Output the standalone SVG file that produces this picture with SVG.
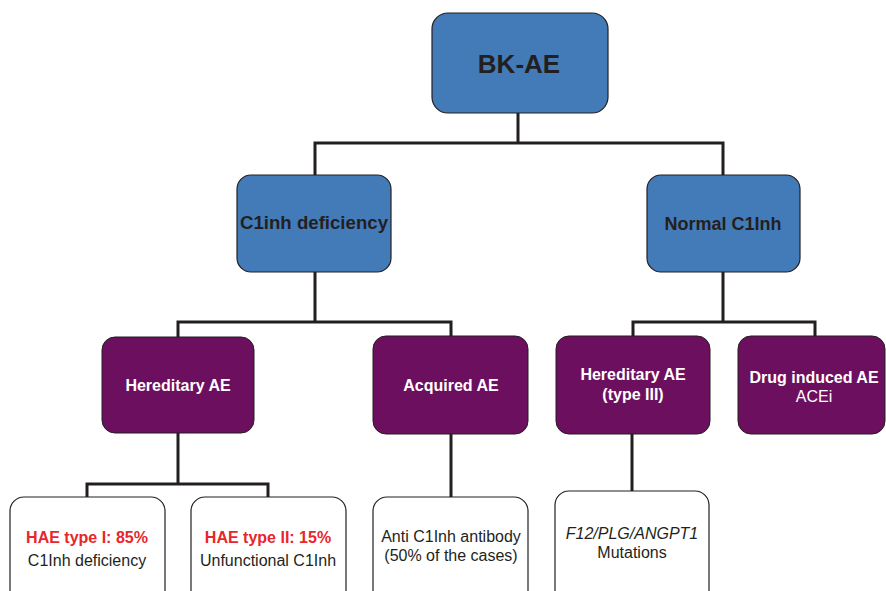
<svg xmlns="http://www.w3.org/2000/svg" width="886" height="591" viewBox="0 0 886 591">
<style>
.blue{fill:#437bb9;stroke:#231f20;stroke-width:1.2}
.purple{fill:#6d0f5f;stroke:#231f20;stroke-width:1}
.white{fill:#ffffff;stroke:#231f20;stroke-width:1.2}
.conn{fill:none;stroke:#231f20;stroke-width:3}
text{font-family:"Liberation Sans",Arial,sans-serif;text-anchor:middle}
.tb{font-weight:bold;fill:#231f20}
.tw{font-weight:bold;fill:#ffffff;font-size:16px}
.twn{fill:#ffffff;font-size:16px}
.red{font-weight:bold;fill:#e8262b;font-size:16px}
.dk{fill:#231f20;font-size:16px}
</style>
<rect width="886" height="591" fill="#ffffff"/>
<g id="connectors">
<path class="conn" d="M518 113V143M315 143H723M315 141.5V175M723 141.5V175"/>
<path class="conn" d="M315 272V322M178 322H451M178 320.5V337M451 320.5V336"/>
<path class="conn" d="M723 272V322M633 322H815M633 320.5V336M815 320.5V336"/>
<path class="conn" d="M178 433V484M87 484H268M87 482.5V497M268 482.5V497"/>
<path class="conn" d="M451 434V497"/>
<path class="conn" d="M632 434V491"/>
</g>
<g id="bkae">
<rect class="blue" x="432" y="13" width="176" height="100" rx="16"/>
<text class="tb" x="519" y="73" font-size="26">BK-AE</text>
</g>
<g id="c1inh-deficiency">
<rect class="blue" x="237" y="175" width="154" height="97" rx="14"/>
<text class="tb" x="314" y="229" font-size="18" textLength="148" lengthAdjust="spacingAndGlyphs">C1inh deficiency</text>
</g>
<g id="normal-c1inh">
<rect class="blue" x="647" y="175" width="153" height="97" rx="14"/>
<text class="tb" x="723" y="230" font-size="18">Normal C1Inh</text>
</g>
<g id="hereditary-ae">
<rect class="purple" x="102" y="337" width="152" height="96" rx="13"/>
<text class="tw" x="178" y="391">Hereditary AE</text>
</g>
<g id="acquired-ae">
<rect class="purple" x="373" y="336" width="155" height="98" rx="13"/>
<text class="tw" x="451" y="391">Acquired AE</text>
</g>
<g id="hereditary-ae-type3">
<rect class="purple" x="556" y="336" width="154" height="98" rx="13"/>
<text class="tw" x="633" y="380">Hereditary AE</text>
<text class="tw" x="633" y="400">(type III)</text>
</g>
<g id="drug-induced-ae">
<rect class="purple" x="738" y="336" width="147" height="98" rx="13"/>
<text class="tw" x="814" y="383">Drug induced AE</text>
<text class="twn" x="814" y="402">ACEi</text>
</g>
<g id="hae-type1">
<rect class="white" x="10" y="497" width="155" height="110" rx="14"/>
<text class="red" x="87" y="543">HAE type I: 85%</text>
<text class="dk" x="87" y="566">C1Inh deficiency</text>
</g>
<g id="hae-type2">
<rect class="white" x="191" y="497" width="155" height="110" rx="14"/>
<text class="red" x="268" y="543">HAE type II: 15%</text>
<text class="dk" x="268" y="566">Unfunctional C1Inh</text>
</g>
<g id="anti-c1inh">
<rect class="white" x="373" y="497" width="155" height="110" rx="14"/>
<text class="dk" x="451" y="542">Anti C1Inh antibody</text>
<text class="dk" x="451" y="561">(50% of the cases)</text>
</g>
<g id="f12-mutations">
<rect class="white" x="555" y="491" width="154" height="116" rx="14"/>
<text class="dk" x="632" y="539" font-style="italic">F12/PLG/ANGPT1</text>
<text class="dk" x="632" y="558">Mutations</text>
</g>
</svg>
